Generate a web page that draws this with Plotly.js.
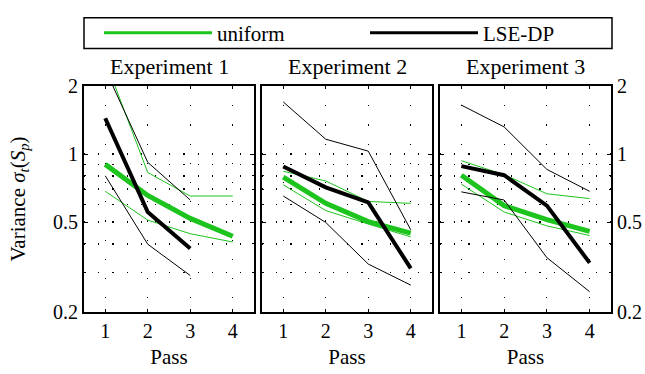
<!DOCTYPE html>
<html>
<head>
<meta charset="utf-8">
<script src="https://cdn.plot.ly/plotly-3.0.1.min.js"></script>
<style>html,body{margin:0;padding:0;background:#fff;}</style>
</head>
<body>
<div id="chart"></div>
<script>
// ---- data ----
const passes = [1, 2, 3, 4];
const experiments = ['Experiment 1', 'Experiment 2', 'Experiment 3'];
const yTickVals = [0.2, 0.5, 1, 2];
const yTickText = ['0.2', '0.5', '1', '2'];
const yMinorVals = [0.3, 0.4, 0.6, 0.7, 0.8, 0.9];
const seriesNames = ['uniform', 'LSE-DP'];

// Experiment 1
const uniformMean1 = [0.90, 0.656, 0.519, 0.433];
const uniformUp1   = [2.6, 0.828, 0.652, 0.652];
const uniformLo1   = [0.684, 0.510, 0.444, 0.408];
const lseMean1     = [1.44, 0.554, 0.382];
const lseUp1       = [2.37, 0.919, 0.626];
const lseLo1       = [0.801, 0.399, 0.290];
// Experiment 2
const uniformMean2 = [0.791, 0.605, 0.502, 0.447];
const uniformUp2   = [0.839, 0.760, 0.617, 0.605];
const uniformLo2   = [0.731, 0.562, 0.490, 0.430];
const lseMean2     = [0.881, 0.712, 0.611, 0.312];
const lseUp2       = [1.70, 1.163, 1.03, 0.462];
const lseLo2       = [0.652, 0.498, 0.326, 0.263];
// Experiment 3
const uniformMean3 = [0.806, 0.591, 0.513, 0.455];
const uniformUp3   = [0.934, 0.81, 0.667, 0.635];
const uniformLo3   = [0.736, 0.554, 0.481, 0.436];
const lseMean3     = [0.884, 0.806, 0.591, 0.330];
const lseUp3       = [1.646, 1.318, 0.855, 0.684];
const lseLo3       = [0.680, 0.626, 0.348, 0.246];

(function () {
  const GREEN = '#1ec41e';
  const BLACK = '#000000';
  const fnt = (s) => ({family: 'Liberation Serif', size: s});

  const expData = [
    {uM: uniformMean1, uU: uniformUp1, uL: uniformLo1, lM: lseMean1, lU: lseUp1, lL: lseLo1},
    {uM: uniformMean2, uU: uniformUp2, uL: uniformLo2, lM: lseMean2, lU: lseUp2, lL: lseLo2},
    {uM: uniformMean3, uU: uniformUp3, uL: uniformLo3, lM: lseMean3, lU: lseUp3, lL: lseLo3}
  ];

  const traces = [];
  expData.forEach((d, i) => {
    const xa = i === 0 ? 'x' : 'x' + (i + 1);
    const ya = i === 0 ? 'y' : 'y' + (i + 1);
    const add = (vals, color, width) => traces.push({
      x: passes.slice(0, vals.length), y: vals, xaxis: xa, yaxis: ya,
      type: 'scatter', mode: 'lines', line: {color: color, width: width},
      showlegend: false, hoverinfo: 'skip'
    });
    add(d.uU, GREEN, 1);
    add(d.uL, GREEN, 1);
    add(d.uM, GREEN, 5);
    add(d.lU, BLACK, 1);
    add(d.lL, BLACK, 1);
    add(d.lM, BLACK, 4);
  });
  traces.push({x: [null], y: [null], type: 'scatter', mode: 'lines', name: seriesNames[0],
    line: {color: GREEN, width: 3}, showlegend: true, legend: 'legend', xaxis: 'x', yaxis: 'y'});
  traces.push({x: [null], y: [null], type: 'scatter', mode: 'lines', name: seriesNames[1],
    line: {color: BLACK, width: 3}, showlegend: true, legend: 'legend2', xaxis: 'x', yaxis: 'y'});

  const pL = 84, pR = 611, pW = 645, pT = 77, pB = 312;
  const span = pR - pL, hgt = pB - pT;
  const domains = [[0, 170 / span], [(262 - pL) / span, (432 - pL) / span], [(440 - pL) / span, 1]];
  const px2x = p => (p - pL) / span;
  const px2y = p => (pB - p) / hgt;

  const xCommon = {
    range: [0.5, 4.5], tickvals: passes, ticktext: passes.map(String),
    ticks: 'inside', ticklen: 3, tickcolor: '#000',
    showline: true, linecolor: '#000', linewidth: 2, mirror: 'allticks',
    showgrid: true, gridcolor: '#000', gridwidth: 1.2, griddash: '1.2px,18px',
    zeroline: false
  };
  const yCommon = {
    type: 'log', range: [Math.log10(0.2), Math.log10(2)],
    tickvals: yTickVals, ticktext: yTickText,
    ticks: 'inside', ticklen: 4, tickcolor: '#000',
    showline: true, linecolor: '#000', linewidth: 2, mirror: 'allticks',
    showgrid: true, gridcolor: '#000', gridwidth: 1.2, griddash: '1.2px,13px',
    minor: {tickvals: yMinorVals, ticks: 'inside', ticklen: 2, tickcolor: '#000',
            showgrid: true, gridcolor: '#000', gridwidth: 1.2, griddash: '1.2px,13px'},
    zeroline: false
  };

  const layout = {
    width: pW, height: 374,
    margin: {l: pL, r: pW - pR, t: pT, b: 374 - pB},
    paper_bgcolor: '#fff', plot_bgcolor: '#fff',
    showlegend: true,
    legend: {orientation: 'h', xanchor: 'left', yanchor: 'middle', yref: 'paper',
      bgcolor: 'rgba(0,0,0,0)', borderwidth: 0, itemwidth: 108, font: fnt(21),
      x: px2x(99), y: px2y(22)},
    legend2: {orientation: 'h', xanchor: 'left', yanchor: 'middle', yref: 'paper',
      bgcolor: 'rgba(0,0,0,0)', borderwidth: 0, itemwidth: 108, font: fnt(21),
      x: px2x(365), y: px2y(22)},
    shapes: [{type: 'rect', xref: 'paper', yref: 'paper',
      x0: px2x(84), x1: px2x(612), y0: px2y(38), y1: px2y(6),
      line: {color: '#000', width: 1.5}, fillcolor: 'rgba(0,0,0,0)'}],
    annotations: experiments.map((t, i) => ({
      text: t, xref: (i === 0 ? 'x' : 'x' + (i + 1)) + ' domain', x: 0.5,
      yref: 'paper', y: 1, yanchor: 'bottom', yshift: 5, showarrow: false,
      font: fnt(22)
    }))
  };
  for (let i = 0; i < 3; i++) {
    const k = i === 0 ? '' : String(i + 1);
    layout['xaxis' + k] = Object.assign({}, xCommon, {domain: domains[i], anchor: 'y' + k,
      tickfont: fnt(20), title: {text: 'Pass', font: fnt(21), standoff: 8}});
    const ya = Object.assign({}, yCommon, {domain: [0, 1], anchor: 'x' + k, tickfont: fnt(20)});
    if (i === 0) {
      ya.title = {text: 'Variance <i>σ<sub>t</sub></i>(<i>S<sub>p</sub></i>)', font: fnt(21), standoff: 22};
    } else if (i === 1) {
      ya.showticklabels = false;
    } else {
      ya.side = 'right';
    }
    layout['yaxis' + k] = ya;
  }

  const fixText = (gd) => {
    gd.querySelectorAll('text').forEach(t => {
      t.style.setProperty('font-family', "'Liberation Serif', serif", 'important');
      t.setAttribute('font-family', 'Liberation Serif');
      t.style.setProperty('fill', '#000', 'important');
    });
    return gd;
  };
  Plotly.newPlot('chart', traces, layout, {staticPlot: true}).then(fixText);
})();
</script>
</body>
</html>
